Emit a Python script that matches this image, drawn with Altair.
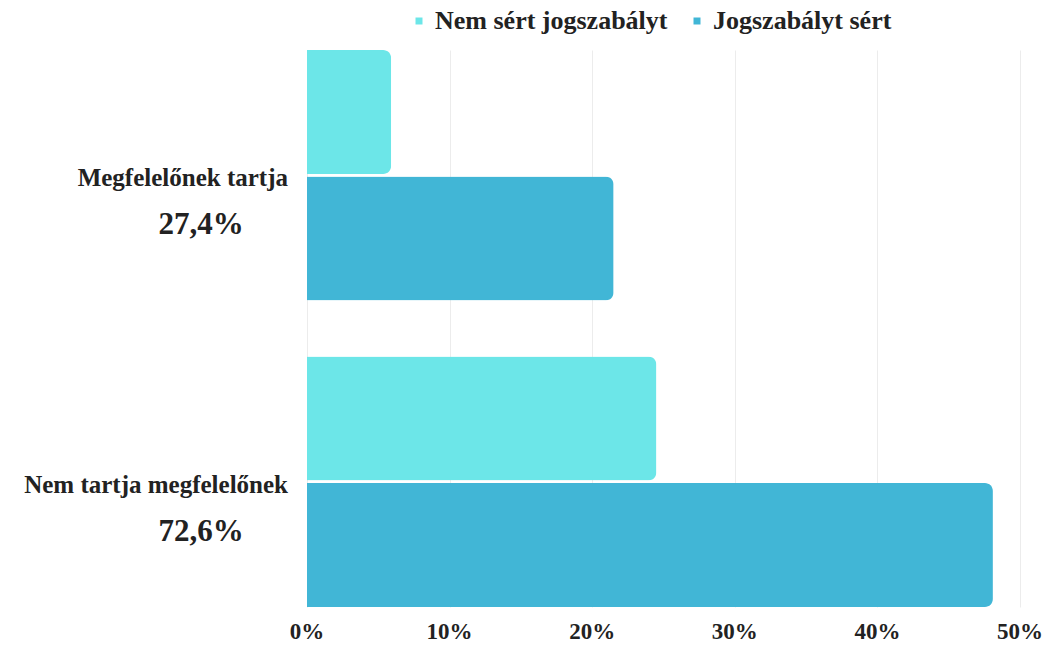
import altair as alt
import pandas as pd

# Share of respondents by opinion, split by whether the practice violates the law
categories = ["Megfelelőnek tartja", "Nem tartja megfelelőnek"]
category_totals = ["27,4%", "72,6%"]
series = ["Nem sért jogszabályt", "Jogszabályt sért"]
not_violating = [5.9, 24.5]
violating = [21.5, 48.1]
tick_values = [0, 10, 20, 30, 40, 50]
tick_labels = ["0%", "10%", "20%", "30%", "40%", "50%"]
colors = ["#6ce6e8", "#41b6d6"]

rows = []
for cat, a, b in zip(categories, not_violating, violating):
    rows.append({"kategoria": cat, "csoport": series[0], "arany": a})
    rows.append({"kategoria": cat, "csoport": series[1], "arany": b})
bars_df = pd.DataFrame(rows)
labels_df = pd.DataFrame({"kategoria": categories, "osszes": category_totals})
ticks_df = pd.DataFrame({"ertek": tick_values, "felirat": tick_labels})

FONT = "Times New Roman"
INK = "#222222"

x_scale = alt.Scale(domain=[0, 50], nice=False)
y_scale = alt.Scale(domain=categories, paddingInner=0.183, paddingOuter=0)

bars = alt.Chart(bars_df).mark_bar(cornerRadiusEnd=8).encode(
    x=alt.X(
        "arany:Q",
        scale=x_scale,
        axis=alt.Axis(
            values=tick_values,
            title=None,
            grid=True,
            gridColor="#ececec",
            domain=False,
            ticks=False,
            labels=False,
        ),
    ),
    y=alt.Y("kategoria:N", scale=y_scale, axis=None),
    yOffset=alt.YOffset("csoport:N", scale=alt.Scale(domain=series, paddingInner=0.02)),
    color=alt.Color(
        "csoport:N",
        scale=alt.Scale(domain=series, range=colors),
        legend=alt.Legend(
            title=None,
            orient="none",
            legendX=99,
            legendY=-42,
            direction="horizontal",
            symbolType="square",
            symbolSize=49,
            symbolStrokeWidth=0,
            labelFont=FONT,
            labelFontWeight="bold",
            labelFontSize=26,
            labelColor=INK,
            labelLimit=0,
            labelOffset=3,
            columnPadding=16,
            padding=0,
        ),
    ),
)

# Percentage labels under the value axis
tick_text = alt.Chart(ticks_df).mark_text(
    align="center", baseline="middle",
    font=FONT, fontWeight="bold", fontSize=23, color=INK,
).encode(
    x=alt.X("ertek:Q", scale=x_scale),
    y=alt.value(582),
    text="felirat:N",
)

cat_text = alt.Chart(labels_df).mark_text(
    align="right", baseline="middle", dy=3,
    font=FONT, fontWeight="bold", fontSize=25, color=INK,
).encode(
    y=alt.Y("kategoria:N", scale=y_scale, axis=None),
    x=alt.value(-19),
    text="kategoria:N",
)

pct_text = alt.Chart(labels_df).mark_text(
    align="center", baseline="middle", dy=50,
    font=FONT, fontWeight="bold", fontSize=31, color=INK,
).encode(
    y=alt.Y("kategoria:N", scale=y_scale, axis=None),
    x=alt.value(-106),
    text="osszes:N",
)

chart = alt.layer(bars, tick_text, cat_text, pct_text).properties(
    width=713,
    height=557,
    padding={"left": 307, "top": 50, "right": 26, "bottom": 43},
    autosize="none",
).configure_view(stroke=None)

chart.save("out.html", embed_options={"renderer": "svg", "actions": False})
